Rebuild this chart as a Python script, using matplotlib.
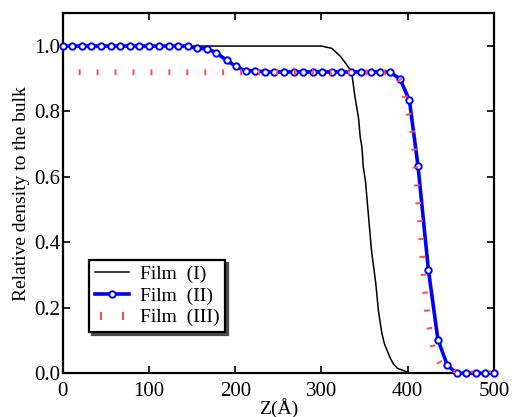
import numpy as np
import matplotlib
matplotlib.use("Agg")
import matplotlib.pyplot as plt
from matplotlib.lines import Line2D
from matplotlib.legend_handler import HandlerLine2D

plt.rcParams['font.family'] = ['Liberation Serif', 'DejaVu Serif']

# ------------------------------------------
# Data
# ------------------------------------------
# Film (I) - black line
z1 = [0, 150, 300, 312, 321.5, 329, 335, 339, 343, 345, 347, 348.5, 351, 353, 354.3,
      358, 363, 366, 370, 373, 376, 380, 383, 388, 395, 403, 500]
rho1 = [1.0, 1.0, 1.0, 0.993, 0.97, 0.944, 0.92, 0.842, 0.78, 0.72, 0.69, 0.63,
        0.588, 0.527, 0.488, 0.375, 0.274, 0.192, 0.122, 0.09, 0.07, 0.045, 0.03,
        0.015, 0.008, 0.0, 0.0]

# Film (II) - blue line with circles
z2 = [0, 11, 22, 33, 44, 56, 67, 78, 89, 100, 112, 123, 134, 145, 156, 167, 178,
      190, 201, 212, 223, 234, 245, 256, 268, 279, 290, 301, 312, 323, 334, 346,
      357, 368, 379, 391, 402, 412, 424, 435, 446, 457, 468, 479, 490, 500]
rho2 = [1.0, 1.0, 1.0, 1.0, 1.0, 1.0, 1.0, 1.0, 1.0, 1.0, 1.0, 1.0, 1.0, 1.0,
        0.993, 0.992, 0.98, 0.956, 0.938, 0.924, 0.925, 0.921, 0.921, 0.921,
        0.921, 0.921, 0.921, 0.921, 0.921, 0.921, 0.921, 0.921, 0.921, 0.921,
        0.921, 0.900, 0.834, 0.632, 0.316, 0.103, 0.024, 0.0, 0.0, 0.0, 0.0, 0.0]

# Film (III) - red dashes
z3 = [0, 380, 388, 395, 398, 403.4, 406.5, 409.6, 412.2, 415, 417.4, 418.9, 421.2,
      423.1, 427, 430.4, 438.6, 454.8, 475, 500]
rho3 = [0.92, 0.92, 0.905, 0.878, 0.824, 0.772, 0.716, 0.607, 0.52, 0.442, 0.332,
        0.276, 0.223, 0.168, 0.114, 0.063, 0.025, 0.005, 0.0, 0.0]

labels = ["Film  (I)", "Film  (II)", "Film  (III)"]

# ------------------------------------------
# Plot
# ------------------------------------------
fig = plt.figure(figsize=(5.14, 4.17), dpi=100)
ax = fig.add_axes([0.122, 0.105, 0.839, 0.863])

red = '#ff5050'
l1, = ax.plot(z1, rho1, color='black', linewidth=1.1, zorder=3)
l2, = ax.plot(z2, rho2, color='#0000ff', linewidth=2.6, marker='o', markersize=4.6,
              markerfacecolor='white', markeredgecolor='#0000ff', markeredgewidth=1.4,
              zorder=4, clip_on=False)
ax.plot(z3, rho3, color=red, linewidth=4.1, linestyle=(0.35, (0.35, 2.8)), zorder=5)
# legend handle for the red dashes: two short vertical ticks
l3 = Line2D([], [], color=red, linestyle='none', marker='|', markersize=5.5,
            markeredgewidth=1.5)

ax.set_xlim(0, 500)
ax.set_ylim(0, 1.1)
ax.set_xticks([0, 100, 200, 300, 400, 500])
ax.set_yticks([0.0, 0.2, 0.4, 0.6, 0.8, 1.0])
ax.set_yticklabels(["0.0", "0.2", "0.4", "0.6", "0.8", "1.0"])

ax.tick_params(direction='in', top=True, right=True, length=5, width=1.2,
               labelsize=15)
ax.tick_params(axis='x', pad=6)
ax.tick_params(axis='y', pad=2)
for s in ax.spines.values():
    s.set_linewidth(1.6)

ax.set_xlabel("Z(Å)", fontsize=14, labelpad=-2)
ax.set_ylabel("Relative density to the bulk", fontsize=14, labelpad=3)

leg = ax.legend([l1, l2, l3], labels, loc='upper left', bbox_to_anchor=(0.061, 0.315),
                borderaxespad=0, fontsize=14, fancybox=False,
                shadow={'color': '0.3', 'alpha': 1}, framealpha=1, edgecolor='black',
                handlelength=1.75, handletextpad=0.55, labelspacing=0.2, borderpad=0.3,
                handler_map={l3: HandlerLine2D(numpoints=2, marker_pad=0.3)})
leg.get_frame().set_linewidth(1.6)

fig.savefig("out.png", dpi=100)
